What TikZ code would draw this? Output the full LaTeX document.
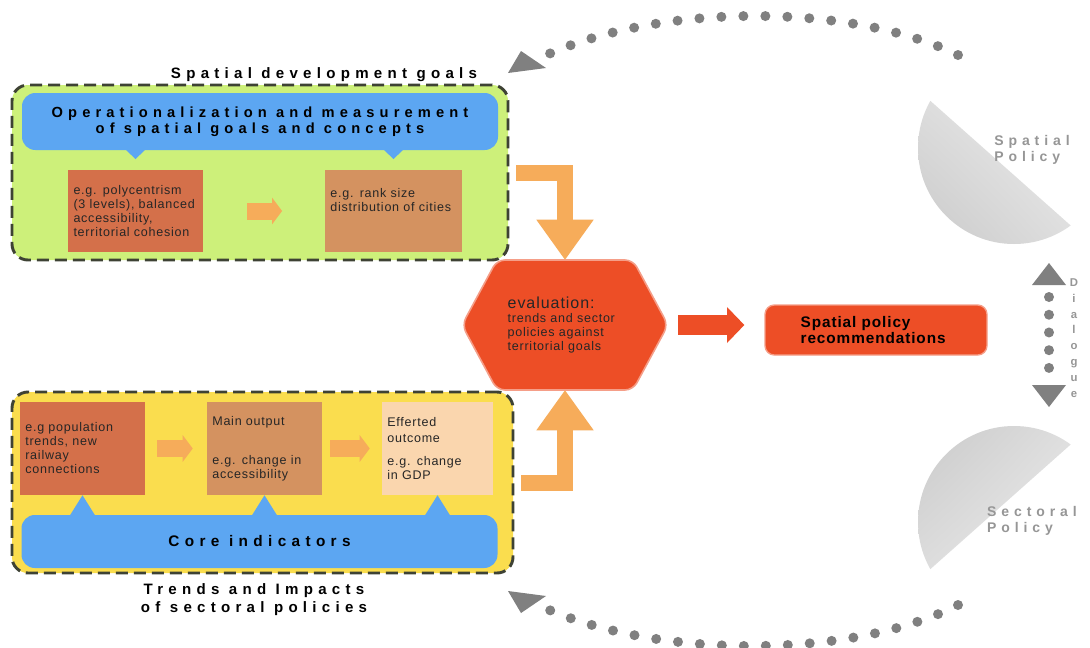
\documentclass[tikz,border=0pt]{standalone}
\usepackage{fontspec}
\setmainfont{Liberation Sans}
\newfontfamily\widefont[LetterSpace=35]{Liberation Sans}
\newfontfamily\boxfont[LetterSpace=6]{Liberation Sans}
\usetikzlibrary{arrows.meta,shadings}
\definecolor{goalgreen}{RGB}{205,240,122}
\definecolor{trendyellow}{RGB}{250,221,78}
\definecolor{callblue}{RGB}{92,166,242}
\definecolor{terracotta}{RGB}{212,112,74}
\definecolor{tanbox}{RGB}{212,146,96}
\definecolor{peachbox}{RGB}{250,214,174}
\definecolor{lightorange}{RGB}{246,172,90}
\definecolor{evalred}{RGB}{237,78,38}
\definecolor{framegray}{RGB}{62,66,52}
\definecolor{dotgray}{RGB}{128,128,128}
\definecolor{policygray}{RGB}{150,150,150}

\begin{document}
\begin{tikzpicture}[x=0.75pt,y=-0.75pt,
  dashed frame/.style={draw=framegray,line width=2.2pt,dash pattern=on 9pt off 4.5pt,rounded corners=12pt},
  call out/.style={fill=callblue,rounded corners=10pt,align=center,font=\widefont\bfseries\fontsize{11}{12}\selectfont},
  small box/.style={inner xsep=4pt,inner ysep=3pt,align=left,text=black!85,font=\boxfont\fontsize{9.4}{10.5}\selectfont},
  step arrow/.style={draw=lightorange,line width=12.75pt,-{Triangle[length=7.5pt,width=20pt,line width=0pt]}},
  bend arrow/.style={draw=lightorange,line width=12pt,-{Triangle[length=30pt,width=43pt,line width=0pt]}},
  red arrow/.style={draw=evalred,line width=15pt,-{Triangle[length=13pt,width=27pt,line width=0pt]}},
  dot loop/.style={draw=dotgray,line width=7.5pt,line cap=round,dash pattern=on 0pt off 16.5pt},
  loop head/.style={fill=dotgray},
  dialogue line/.style={draw=dotgray,line width=7.5pt,line cap=round,dash pattern=on 0pt off 13.3pt,dash phase=4.3pt,
    {Triangle[length=16.5pt,width=25.5pt,line width=0pt]}-{Triangle[length=16.5pt,width=25.5pt,line width=0pt]}},
  title text/.style={align=center,font=\widefont\bfseries\fontsize{11.3}{13.5}\selectfont},
  policy text/.style={align=left,text=policygray,font=\widefont\bfseries\fontsize{10.5}{11.5}\selectfont}]

  \path[fill=white,use as bounding box] (0,0) rectangle (1090,647);

  \begin{scope}
    \clip (783,-30) -- (1239,375) -- (783,375) -- cycle;
    \shade[upper left=gray!22,upper right=gray!6,lower left=gray!42,lower right=gray!22] (1014,148) circle (72pt);
  \end{scope}
  \begin{scope}
    \clip (783,700) -- (1239,295) -- (783,295) -- cycle;
    \shade[upper left=gray!42,upper right=gray!22,lower left=gray!22,lower right=gray!6] (1014,522) circle (72pt);
  \end{scope}

  \node[dashed frame,fill=goalgreen,minimum width=372pt,minimum height=131.25pt] (goal_frame) at (260,172.5) {};
  \node[dashed frame,fill=trendyellow,minimum width=375.75pt,minimum height=135.75pt] (trend_frame) at (262.5,482.5) {};

  \node[call out,minimum width=357pt,minimum height=42.75pt] (op_call) at (260,121.5)
    {Operationalization and measurement\\of spatial goals and concepts};
  \node[call out,minimum width=357pt,minimum height=39.75pt,font=\widefont\bfseries\fontsize{11.5}{12}\selectfont] (core_call) at (259.5,541.5) {Core indicators};

  \node[small box,fill=terracotta,text width=93pt,minimum height=61.5pt] (pol_box) at (135.5,211)
    {e.g. polycentrism\\(3 levels), balanced\\accessibility,\\territorial cohesion};
  \node[small box,fill=tanbox,text width=94.75pt,minimum height=61.5pt,node distance=193.5pt] (rank_box) [right of=pol_box]
    {e.g. rank size\\distribution of cities\\[6pt]\mbox{}};

  \node[small box,fill=terracotta,text width=85.75pt,minimum height=69.75pt] (trend_box) at (82.5,448.5)
    {e.g population\\trends, new\\railway\\connections};
  \node[small box,fill=tanbox,text width=78.25pt,minimum height=69.75pt,node distance=136.5pt] (output_box) [right of=trend_box]
    {Main output\\[19pt]e.g. change in\\accessibility};
  \node[small box,fill=peachbox,text width=75.25pt,minimum height=69.75pt,node distance=129.75pt] (outcome_box) [right of=output_box]
    {Efferted\\[2pt]outcome\\[6.5pt]e.g. change\\in GDP};

  \foreach \b in {pol_box,rank_box}
    \fill[callblue] ([xshift=-10pt,yshift=3pt]\b.north |- op_call.south) -- ([yshift=8pt]\b.north)
      -- ([xshift=10pt,yshift=3pt]\b.north |- op_call.south) -- cycle;
  \foreach \b in {trend_box,output_box,outcome_box}
    \fill[callblue] ([xshift=-11pt,yshift=-3pt]\b.south |- core_call.north) -- (\b.south)
      -- ([xshift=11pt,yshift=-3pt]\b.south |- core_call.north) -- cycle;

  \draw[step arrow,shorten <=33pt,shorten >=32pt] (pol_box) -- (rank_box);
  \draw[step arrow,shorten <=9pt,shorten >=10.5pt] (trend_box) -- (output_box);
  \draw[step arrow,shorten <=6pt,shorten >=9pt] (output_box) -- (outcome_box);

  \fill[evalred,draw=evalred!55!white,line width=1.2pt,rounded corners=6pt]
    (462,325) -- (497,260) -- (633,260) -- (668,325) -- (633,390) -- (497,390) -- cycle;
  \node[minimum width=154.5pt,minimum height=97.5pt,text width=86pt,align=left,text=black!85,
    font=\boxfont\fontsize{9.4}{10.5}\selectfont] (eval_hex) at (565,325)
    {{\fontsize{12}{13}\selectfont evaluation:}\\trends and sector\\policies against\\territorial goals};

  \draw[bend arrow] ([xshift=5pt]goal_frame.east) -| (eval_hex.north);
  \draw[bend arrow] ([xshift=5pt]trend_frame.east) -| (eval_hex.south);

  \node[fill=evalred,draw=evalred!55!white,line width=1pt,rounded corners=7pt,minimum width=166.5pt,minimum height=37.5pt,
    text width=113pt,align=left,font=\boxfont\bfseries\fontsize{11.5}{12.5}\selectfont] (rec_box) at (876,330)
    {Spatial policy\\recommendations};
  \draw[red arrow,shorten <=7.5pt,shorten >=15pt] (eval_hex.east) -- (eval_hex.east -| rec_box.west);

  \node[title text] (goal_title) at (324,75) {Spatial development goals};
  \node[title text] (trend_title) at (254,600) {Trends and Impacts\\of sectoral policies};

  \node[policy text] (spatial_label) at (1032,150) {Spatial\\Policy};
  \node[policy text] (sector_label) at (1032,521) {Sectoral\\Policy};

  \coordinate (spatial_end) at (958,55);
  \coordinate (goal_in) at (534,61);
  \coordinate (sector_end) at (958,605);
  \coordinate (trend_in) at (534,603);
  \draw[dot loop] (spatial_end) .. controls (850,2) and (650,2) .. (goal_in);
  \fill[loop head] (508,73) -- (521,51) -- (546,68) -- cycle;
  \draw[dot loop] (sector_end) .. controls (850,660) and (650,660) .. (trend_in);
  \fill[loop head] (508,591) -- (521,613) -- (546,596) -- cycle;

  \coordinate (dlg_top) at (1049,263);
  \coordinate (dlg_bot) at (1049,407);
  \draw[dialogue line] (dlg_top) -- (dlg_bot);
  \node[align=center,text=policygray,font=\bfseries\fontsize{8.5}{11.9}\selectfont] (dlg_label) at (1074,338)
    {D\\i\\a\\l\\o\\g\\u\\e};
\end{tikzpicture}
\end{document}
